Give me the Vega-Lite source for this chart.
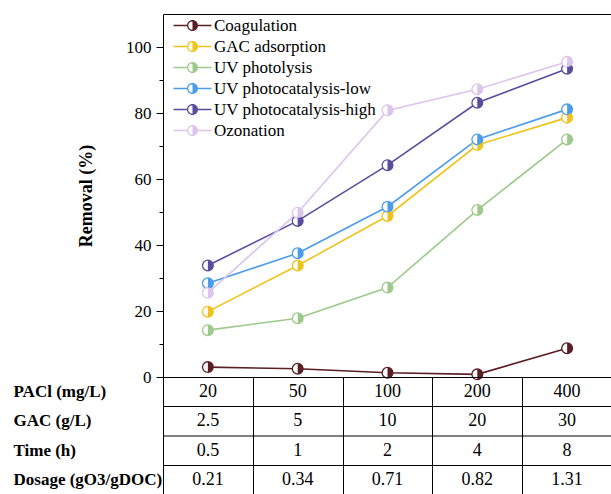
{
  "$schema": "https://vega.github.io/schema/vega-lite/v6.json",
  "background": "white",
  "padding": {"left": 12, "top": 13, "right": 0, "bottom": 0},
  "spacing": 0,
  "bounds": "flush",
  "resolve": {"scale": {"fill": "independent", "stroke": "independent"}, "legend": {"fill": "independent", "stroke": "independent"}},
  "config": {
    "font": "'Liberation Serif', 'Times New Roman', serif",
    "view": {"stroke": "black", "strokeWidth": 1}
  },
  "datasets": {
    "removal": [
      {"series": "Coagulation", "x": 0, "y": 3.0},
      {"series": "Coagulation", "x": 1, "y": 2.5},
      {"series": "Coagulation", "x": 2, "y": 1.3},
      {"series": "Coagulation", "x": 3, "y": 0.8},
      {"series": "Coagulation", "x": 4, "y": 8.7},
      {"series": "GAC adsorption", "x": 0, "y": 19.8},
      {"series": "GAC adsorption", "x": 1, "y": 33.8},
      {"series": "GAC adsorption", "x": 2, "y": 48.8},
      {"series": "GAC adsorption", "x": 3, "y": 70.3},
      {"series": "GAC adsorption", "x": 4, "y": 78.6},
      {"series": "UV photolysis", "x": 0, "y": 14.2},
      {"series": "UV photolysis", "x": 1, "y": 17.8},
      {"series": "UV photolysis", "x": 2, "y": 27.1},
      {"series": "UV photolysis", "x": 3, "y": 50.6},
      {"series": "UV photolysis", "x": 4, "y": 72.0},
      {"series": "UV photocatalysis-low", "x": 0, "y": 28.4},
      {"series": "UV photocatalysis-low", "x": 1, "y": 37.5},
      {"series": "UV photocatalysis-low", "x": 2, "y": 51.6},
      {"series": "UV photocatalysis-low", "x": 3, "y": 72.0},
      {"series": "UV photocatalysis-low", "x": 4, "y": 81.1},
      {"series": "UV photocatalysis-high", "x": 0, "y": 33.8},
      {"series": "UV photocatalysis-high", "x": 1, "y": 47.3},
      {"series": "UV photocatalysis-high", "x": 2, "y": 64.2},
      {"series": "UV photocatalysis-high", "x": 3, "y": 83.1},
      {"series": "UV photocatalysis-high", "x": 4, "y": 93.4},
      {"series": "Ozonation", "x": 0, "y": 25.5},
      {"series": "Ozonation", "x": 1, "y": 49.8},
      {"series": "Ozonation", "x": 2, "y": 80.8},
      {"series": "Ozonation", "x": 3, "y": 87.2},
      {"series": "Ozonation", "x": 4, "y": 95.5}
    ],
    "table": [
      {"row": "PACl (mg/L)", "col": 0, "v": "20"},
      {"row": "PACl (mg/L)", "col": 1, "v": "50"},
      {"row": "PACl (mg/L)", "col": 2, "v": "100"},
      {"row": "PACl (mg/L)", "col": 3, "v": "200"},
      {"row": "PACl (mg/L)", "col": 4, "v": "400"},
      {"row": "GAC (g/L)", "col": 0, "v": "2.5"},
      {"row": "GAC (g/L)", "col": 1, "v": "5"},
      {"row": "GAC (g/L)", "col": 2, "v": "10"},
      {"row": "GAC (g/L)", "col": 3, "v": "20"},
      {"row": "GAC (g/L)", "col": 4, "v": "30"},
      {"row": "Time (h)", "col": 0, "v": "0.5"},
      {"row": "Time (h)", "col": 1, "v": "1"},
      {"row": "Time (h)", "col": 2, "v": "2"},
      {"row": "Time (h)", "col": 3, "v": "4"},
      {"row": "Time (h)", "col": 4, "v": "8"},
      {"row": "Dosage (gO3/gDOC)", "col": 0, "v": "0.21"},
      {"row": "Dosage (gO3/gDOC)", "col": 1, "v": "0.34"},
      {"row": "Dosage (gO3/gDOC)", "col": 2, "v": "0.71"},
      {"row": "Dosage (gO3/gDOC)", "col": 3, "v": "0.82"},
      {"row": "Dosage (gO3/gDOC)", "col": 4, "v": "1.31"}
    ]
  },
  "vconcat": [
    {
      "width": 449,
      "height": 363,
      "data": {"name": "removal"},
      "encoding": {
        "x": {"field": "x", "type": "quantitative", "scale": {"domain": [-0.5, 4.5], "nice": false, "zero": false}, "axis": null},
        "y": {
          "field": "y", "type": "quantitative",
          "scale": {"domain": [0, 110], "nice": false},
          "axis": {
            "values": [0, 10, 20, 30, 40, 50, 60, 70, 80, 90, 100],
            "labelExpr": "datum.value % 20 === 0 ? datum.label : ''",
            "tickSize": {"condition": {"test": "datum.value % 20 === 0", "value": 7}, "value": 4},
            "tickColor": "black",
            "tickWidth": 1,
            "domain": false,
            "grid": false,
            "labelFontSize": 17,
            "labelColor": "black",
            "labelPadding": 5,
            "title": "Removal (%)",
            "titleFontSize": 18,
            "titleFontWeight": "bold",
            "titleColor": "black",
            "titlePadding": 30
          }
        }
      },
      "layer": [
        {
          "mark": {"type": "line", "strokeWidth": 1.6},
          "encoding": {
            "stroke": {
              "field": "series", "type": "nominal",
              "scale": {
                "range": ["#5a1e24", "#efc31d", "#dcc4ec", "#5a4c9e", "#4b9cea", "#9dc98b"]
              },
              "legend": null
            }
          }
        },
        {
          "mark": {"type": "point", "shape": "circle", "filled": true, "fill": "white", "size": 115, "strokeWidth": 1.3, "opacity": 1},
          "encoding": {
            "stroke": {"field": "series", "type": "nominal", "legend": null}
          }
        },
        {
          "mark": {"type": "point", "shape": "M0,-1 A1,1 0 0,1 0,1 Z", "filled": true, "size": 112, "strokeWidth": 0, "opacity": 1},
          "encoding": {
            "fill": {
              "field": "series", "type": "nominal",
              "scale": {
                "domain": ["Coagulation", "GAC adsorption", "UV photolysis", "UV photocatalysis-low", "UV photocatalysis-high", "Ozonation"],
                "range": ["#5a1e24", "#efc31d", "#9dc98b", "#4b9cea", "#5a4c9e", "#dcc4ec"]
              },
              "legend": {
                "orient": "none",
                "legendX": 21,
                "legendY": 3,
                "title": null,
                "padding": 0,
                "symbolType": "M-3.45,-0.145 L-1,-0.145 L-1,0.145 L-3.45,0.145 Z M1,-0.145 L3.45,-0.145 L3.45,0.145 L1,0.145 Z M0,-1 A1,1 0 0,1 0,1 Z M0,-1 A1,1 0 0,0 0,1 L0,0.77 A0.77,0.77 0 0,1 0,-0.77 Z",
                "symbolSize": 121,
                "symbolStrokeWidth": 0,
                "symbolOpacity": 1,
                "labelFontSize": 17,
                "labelColor": "black",
                "labelOffset": 13,
                "labelLimit": 300,
                "rowPadding": 3
              }
            }
          }
        }
      ]
    },
    {
      "width": 449,
      "height": 118,
      "data": {"name": "table"},
      "encoding": {
        "y": {
          "field": "row", "type": "nominal",
          "sort": ["PACl (mg/L)", "GAC (g/L)", "Time (h)", "Dosage (gO3/gDOC)"],
          "scale": {"paddingInner": 0, "paddingOuter": 0},
          "axis": {
            "title": null,
            "ticks": false,
            "tickSize": 0,
            "domain": false,
            "labelAlign": "left",
            "labelPadding": 150,
            "labelFontSize": 17,
            "labelFontWeight": "bold",
            "labelColor": "black",
            "labelLimit": 300
          }
        }
      },
      "layer": [
        {
          "mark": {"type": "text", "fontSize": 18, "color": "black"},
          "encoding": {
            "x": {
              "field": "col", "type": "quantitative",
              "scale": {"domain": [-0.5, 4.5], "nice": false, "zero": false},
              "axis": {
                "values": [0.5, 1.5, 2.5, 3.5],
                "grid": true,
                "gridColor": "black",
                "gridOpacity": 1,
                "gridWidth": 1,
                "labels": false,
                "ticks": false,
                "domain": false,
                "title": null
              }
            },
            "text": {"field": "v", "type": "nominal"}
          }
        },
        {
          "transform": [{"filter": "datum.col === 0 && datum.row !== 'PACl (mg/L)'"}],
          "mark": {"type": "rule", "color": "black", "strokeWidth": 1},
          "encoding": {
            "y": {"field": "row", "type": "nominal", "bandPosition": 0, "sort": ["PACl (mg/L)", "GAC (g/L)", "Time (h)", "Dosage (gO3/gDOC)"]}
          }
        }
      ]
    }
  ]
}
